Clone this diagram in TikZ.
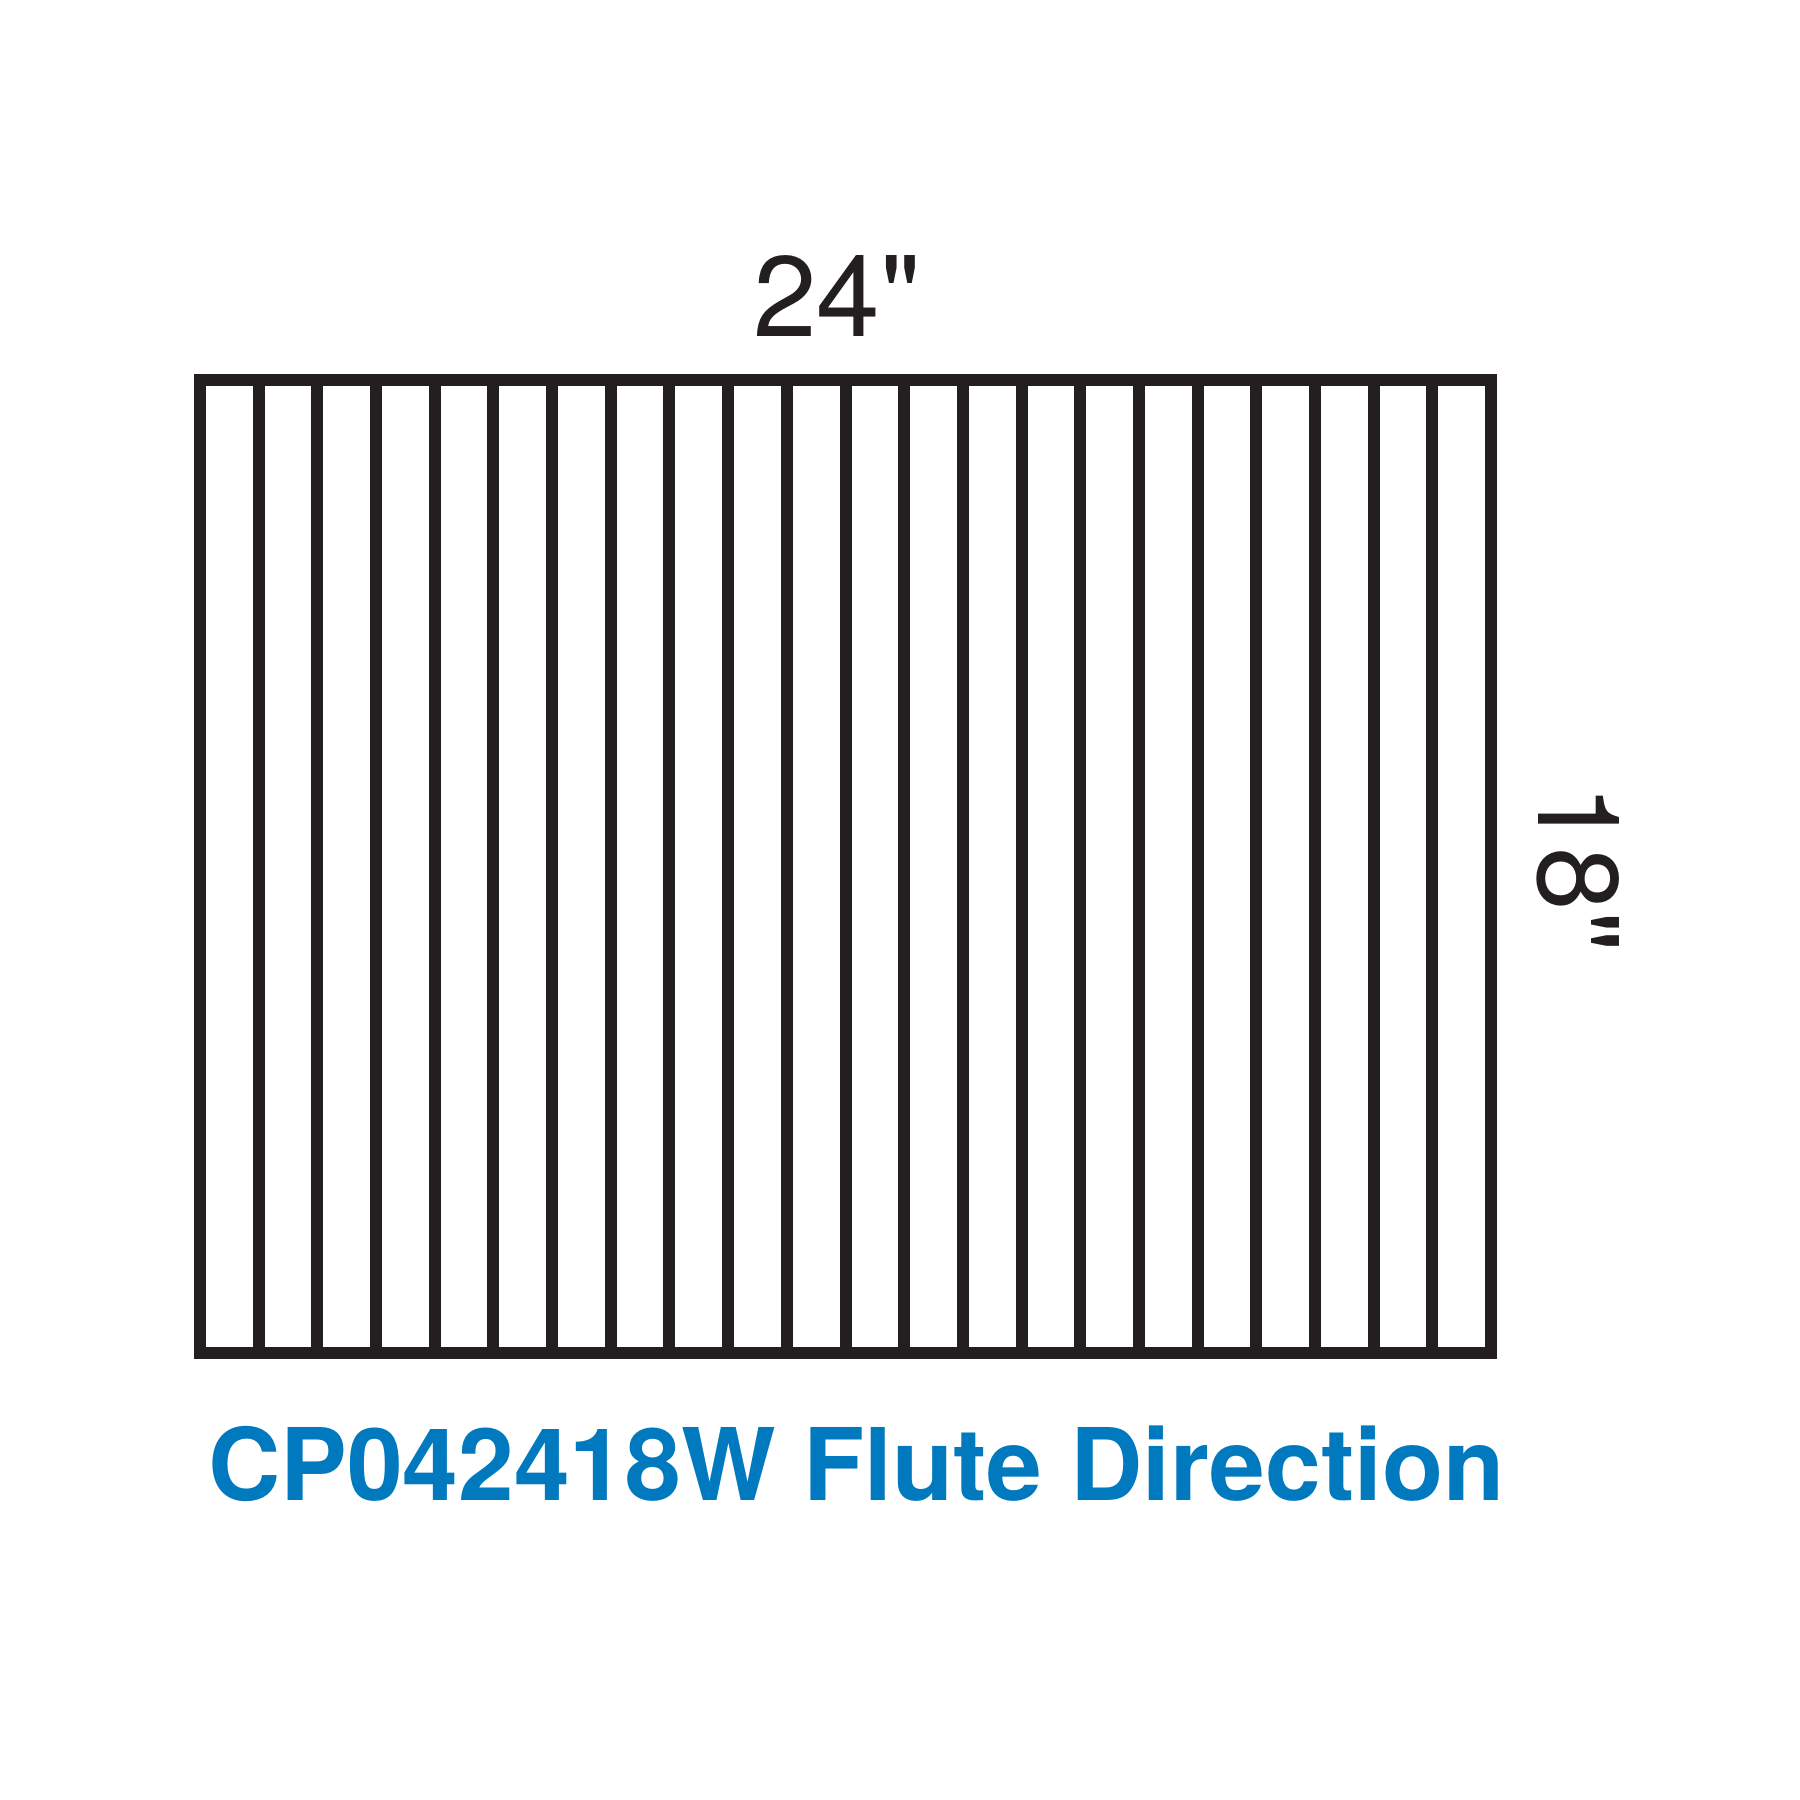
\documentclass[tikz,border=0pt]{standalone}
\usepackage{fontspec}
\setmainfont{TeX Gyre Heros}[Ligatures=TeXOff]
\usetikzlibrary{calc}
\definecolor{fluteblue}{RGB}{0,121,190}
\definecolor{boardblack}{RGB}{35,31,32}
\tikzset{
    board/.style={boardblack, line width=0.12cm},
    dimlabel/.style={text=boardblack, inner sep=0pt, font=\fontsize{32.5}{34}\selectfont},
    caption/.style={text=fluteblue, inner sep=0pt, font=\bfseries\fontsize{28.5}{30}\selectfont}
}
\begin{document}
\begin{tikzpicture}
    \useasboundingbox (0,0) rectangle (18,18);
    \coordinate (sw) at (2.00,4.47);
    \coordinate (ne) at (14.91,14.195);
    \draw[board] (sw) rectangle (ne);
    \foreach \k in {1,...,21}
        \draw[board] ($(sw)!\k/22!(sw -| ne)$) -- ($(sw |- ne)!\k/22!(ne)$);
    \node[dimlabel, anchor=base] (width) at (8.37,14.63) {24"};
    \node[dimlabel, anchor=base, rotate=-90] (height) at (15.38,9.32) {18"};
    \node[caption, anchor=base] (title) at (8.565,2.99) {CP042418W Flute Direction};
\end{tikzpicture}
\end{document}
